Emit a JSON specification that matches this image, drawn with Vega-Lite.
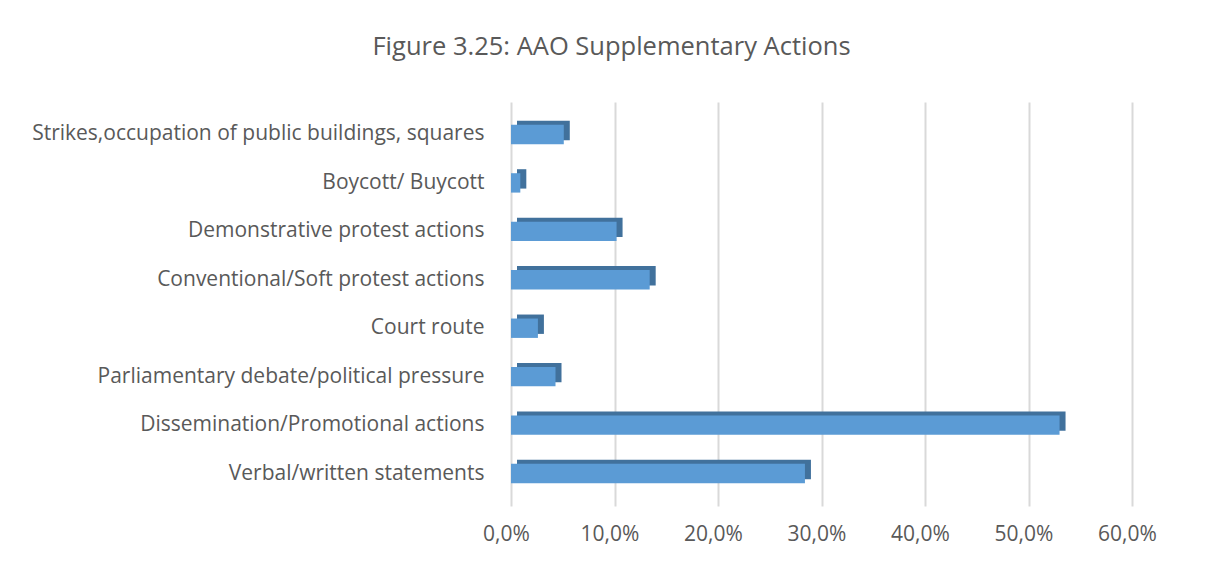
{
  "$schema": "https://vega.github.io/schema/vega-lite/v6.json",
  "width": 621,
  "height": 404,
  "autosize": "none",
  "padding": {"left": 511, "top": 102, "right": 81, "bottom": 60},
  "background": "white",
  "config": {"view": {"stroke": null}},
  "title": {
    "text": "Figure 3.25: AAO Supplementary Actions",
    "font": "Open Sans",
    "fontSize": 25.5,
    "fontWeight": "normal",
    "color": "#595959",
    "anchor": "middle",
    "dx": -210,
    "offset": 42
  },
  "data": {
    "values": [
      {"action": "Strikes,occupation of public buildings, squares", "share": 0.051},
      {"action": "Boycott/ Buycott", "share": 0.009},
      {"action": "Demonstrative protest actions", "share": 0.102},
      {"action": "Conventional/Soft protest actions", "share": 0.134},
      {"action": "Court route", "share": 0.026},
      {"action": "Parliamentary debate/political pressure", "share": 0.043},
      {"action": "Dissemination/Promotional actions", "share": 0.530},
      {"action": "Verbal/written statements", "share": 0.284}
    ]
  },
  "encoding": {
    "y": {
      "field": "action",
      "type": "nominal",
      "sort": null,
      "scale": {"paddingInner": 0.6, "paddingOuter": 0.47},
      "axis": {
        "title": null,
        "domain": false,
        "ticks": false,
        "labelPadding": 27,
        "labelFont": "Open Sans",
        "labelFontSize": 21,
        "labelColor": "#595959",
        "labelLimit": 600
      }
    },
    "x": {
      "field": "share",
      "type": "quantitative",
      "scale": {"domain": [0, 0.6]},
      "axis": {
        "title": null,
        "values": [0, 0.1, 0.2, 0.3, 0.4, 0.5, 0.6],
        "labelExpr": "replace(format(datum.value, '.1%'), '.', ',')",
        "labelFlush": false,
        "labelOffset": -5,
        "domain": false,
        "ticks": false,
        "grid": true,
        "gridColor": "#d9d9d9",
        "gridWidth": 2,
        "labelPadding": 17,
        "labelFont": "Open Sans",
        "labelFontSize": 21,
        "labelColor": "#595959"
      }
    }
  },
  "layer": [
    {"mark": {"type": "bar", "color": "#41719c", "xOffset": 6, "yOffset": -4}},
    {"mark": {"type": "bar", "color": "#5b9bd5"}}
  ]
}
